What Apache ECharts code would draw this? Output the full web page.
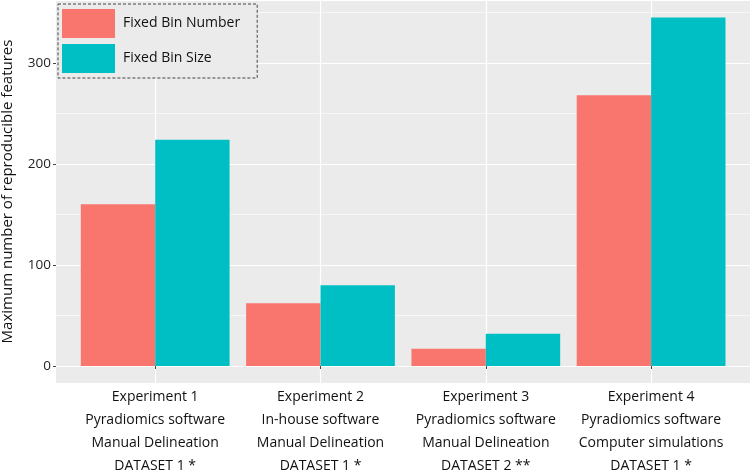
<!DOCTYPE html>
<html><head><meta charset="utf-8">
<script src="https://cdn.jsdelivr.net/npm/echarts@6/dist/echarts.min.js"></script>
<style>html,body{margin:0;padding:0;background:#fff}#c{width:750px;height:472px}</style>
</head><body><div id="c"></div>
<script>
const categories = [
  'Experiment 1\nPyradiomics software\nManual Delineation\nDATASET 1 *',
  'Experiment 2\nIn-house software\nManual Delineation\nDATASET 1 *',
  'Experiment 3\nPyradiomics software\nManual Delineation\nDATASET 2 **',
  'Experiment 4\nPyradiomics software\nComputer simulations\nDATASET 1 *'
];
const seriesNames = ['Fixed Bin Number', 'Fixed Bin Size'];
const fixedBinNumber = [160, 62, 17, 268];
const fixedBinSize = [224, 80, 32, 345];
const yTicks = [0, 100, 200, 300];

const FONT = 'Open Sans';
const chart = echarts.init(document.getElementById('c'), null, {renderer: 'canvas'});
const white = '#FFFFFF';
const band = 165.3;
const c1 = 155.2;
const c4 = c1 + 3 * band;
const yMax = 362.25;
const zeroY = 366;
const pxPerUnit = zeroY / yMax;
const tickMax = yTicks[yTicks.length - 1];
const G = {show: false, outerBoundsMode: 'none', containLabel: false};

chart.setOption({
  animation: false,
  textStyle: {fontFamily: FONT},
  grid: [
    Object.assign({}, G, {left: 56, right: 0, top: 0, height: 383, show: true, backgroundColor: '#EBEBEB', borderWidth: 0}),
    Object.assign({}, G, {left: c1, width: c4 - c1, top: 0, height: 383}),
    Object.assign({}, G, {left: 56, right: 0, top: 0, height: zeroY}),
    Object.assign({}, G, {left: c1 - band / 2, width: band * 4, top: 0, height: zeroY}),
    Object.assign({}, G, {left: 56, right: 0, top: zeroY - tickMax * pxPerUnit, height: tickMax * pxPerUnit})
  ],
  xAxis: [
    {gridIndex: 0, type: 'value', show: false, min: 0, max: 1},
    {gridIndex: 1, type: 'category', boundaryGap: false, data: categories,
      axisLine: {show: false}, axisTick: {show: false}, axisLabel: {show: false},
      splitLine: {show: true, lineStyle: {color: white, width: 1.2}}},
    {gridIndex: 2, type: 'value', show: false, min: 0, max: 1},
    {gridIndex: 3, type: 'category', data: categories, offset: 17,
      axisLine: {show: false},
      axisTick: {show: true, alignWithLabel: true, length: 3, lineStyle: {color: '#444'}},
      axisLabel: {interval: 0, margin: 3, fontFamily: FONT, fontSize: 14, lineHeight: 23, color: '#111', align: 'center'},
      splitLine: {show: false}},
    {gridIndex: 4, type: 'value', show: false, min: 0, max: 1}
  ],
  yAxis: [
    {gridIndex: 0, type: 'value', min: 0, max: 1,
      name: 'Maximum number of reproducible features', nameLocation: 'middle', nameGap: 41,
      nameTextStyle: {fontFamily: FONT, fontSize: 15, color: '#111'},
      axisLine: {show: false}, axisTick: {show: false}, axisLabel: {show: false}, splitLine: {show: false}},
    {gridIndex: 1, type: 'value', show: false, min: 0, max: 1, splitLine: {show: false}},
    {gridIndex: 2, type: 'value', min: 0, max: yMax, interval: 100,
      axisLine: {show: false}, axisTick: {show: false}, axisLabel: {show: false},
      splitLine: {show: true, lineStyle: {color: white, width: 1.2}},
      minorTick: {show: false, splitNumber: 2},
      minorSplitLine: {show: true, lineStyle: {color: white, width: 0.6}}},
    {gridIndex: 3, type: 'value', show: false, min: 0, max: yMax, splitLine: {show: false}},
    {gridIndex: 4, type: 'value', min: 0, max: tickMax, interval: 100,
      axisLine: {show: false},
      axisTick: {show: true, length: 3, lineStyle: {color: '#444'}},
      axisLabel: {margin: 5, fontFamily: FONT, fontSize: 13.5, color: '#222'},
      splitLine: {show: false}}
  ],
  legend: {
    orient: 'vertical', left: 58, top: 4,
    data: seriesNames,
    itemWidth: 53, itemHeight: 29, itemGap: 6,
    padding: [5, 17, 5, 4],
    backgroundColor: '#EBEBEB',
    borderColor: '#444', borderWidth: 1, borderType: [3, 2],
    icon: 'rect',
    textStyle: {fontFamily: FONT, fontSize: 14, color: '#111', padding: [0, 0, 0, 3]}
  },
  series: [
    {name: seriesNames[0], type: 'bar', xAxisIndex: 3, yAxisIndex: 3, data: fixedBinNumber,
      barWidth: band * 0.45, barGap: '0%', itemStyle: {color: '#F8766D'}},
    {name: seriesNames[1], type: 'bar', xAxisIndex: 3, yAxisIndex: 3, data: fixedBinSize,
      barWidth: band * 0.45, barGap: '0%', itemStyle: {color: '#00BFC4'}}
  ]
});
</script></body></html>
